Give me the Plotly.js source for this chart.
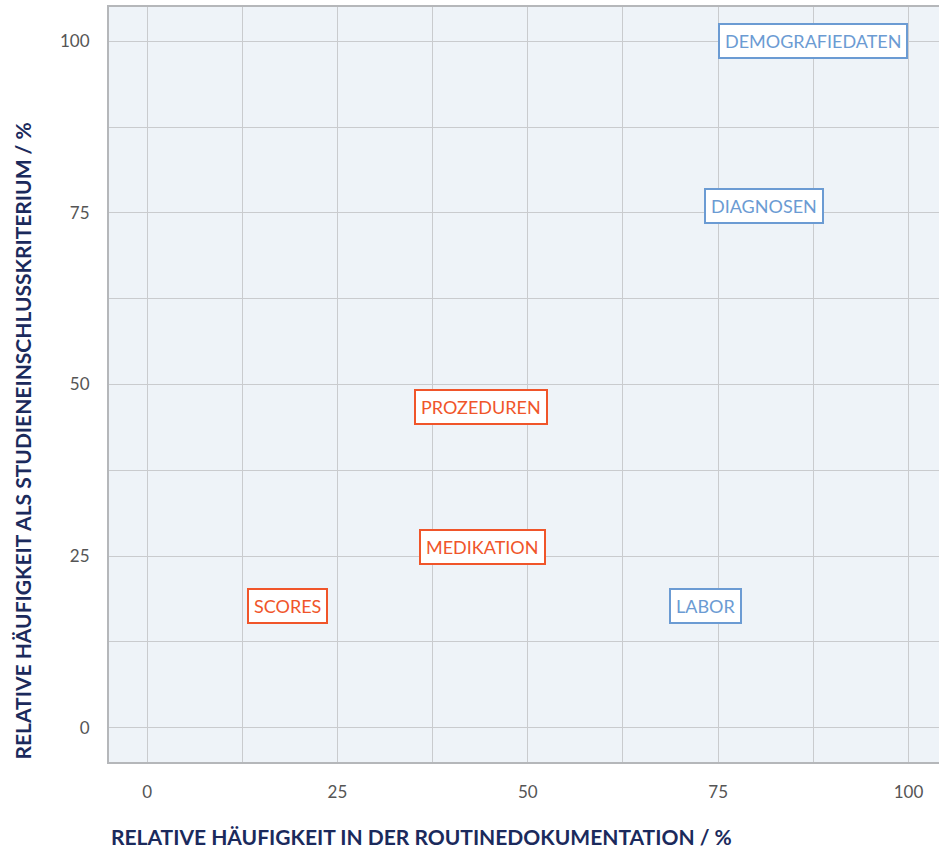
<!DOCTYPE html>
<html><head><meta charset="utf-8">
<script src="https://cdn.plot.ly/plotly-3.0.1.min.js"></script>
<style>html,body{margin:0;padding:0;background:#fff;}#c{width:939px;height:848px;}</style>
</head><body><div id="c"></div>
<script>
const labels = ["DEMOGRAFIEDATEN","DIAGNOSEN","PROZEDUREN","MEDIKATION","SCORES","LABOR"];
const routine = [87.5, 81, 43.8, 44, 18.5, 73.3];
const inclusion = [100, 76, 46.7, 26.3, 17.7, 17.7];
const groups = ["blue","blue","red","red","red","blue"];
const tickVals = [0, 25, 50, 75, 100];
const tickText = ["0", "25", "50", "75", "100"];
const xTitle = "RELATIVE HÄUFIGKEIT IN DER ROUTINEDOKUMENTATION / %";
const yTitle = "RELATIVE HÄUFIGKEIT ALS STUDIENEINSCHLUSSKRITERIUM / %";

const colors = {blue: "#6b9bd3", red: "#f0552a"};
const font = "Source Sans Pro, Lato, Noto Sans, sans-serif";
const titleFont = {family: font, size: 21, color: "#1b2a5c", weight: "bold"};

const annotations = labels.map((t, i) => ({
  x: routine[i], y: inclusion[i], xref: "x", yref: "y",
  text: t, showarrow: false,
  font: {family: font, size: 18, color: colors[groups[i]]},
  bgcolor: "#ffffff", bordercolor: colors[groups[i]], borderwidth: 2, borderpad: 5
}));
annotations.push({
  xref: "paper", yref: "paper", x: 0, y: 0, xanchor: "left", yanchor: "middle",
  yshift: -74, text: xTitle, showarrow: false, font: titleFont
});
annotations.push({
  xref: "paper", yref: "paper", x: 0, y: 0, xanchor: "center", yanchor: "bottom",
  xshift: -87, textangle: -90, text: yTitle, showarrow: false, font: titleFont
});

const axisCommon = {
  tickvals: tickVals, ticktext: tickText,
  showgrid: true, gridcolor: "#c9cbce", gridwidth: 1,
  minor: {dtick: 12.5, tick0: 0, showgrid: true, gridcolor: "#c9cbce", gridwidth: 1},
  zeroline: false, showline: true, linecolor: "#b5b7ba", linewidth: 2, mirror: true,
  ticks: "", tickfont: {family: font, size: 17, color: "#555555"}
};

const layout = {
  width: 939, height: 848,
  margin: {l: 109, r: 0, t: 7, b: 86},
  paper_bgcolor: "#ffffff", plot_bgcolor: "#eef3f8",
  showlegend: false,
  xaxis: Object.assign({}, axisCommon, {range: [-5, 104], ticklabelstandoff: 14}),
  yaxis: Object.assign({}, axisCommon, {range: [-5, 105], ticklabelstandoff: 14}),
  annotations: annotations
};

Plotly.newPlot("c", [{x: routine, y: inclusion, mode: "markers", marker: {opacity: 0}, hoverinfo: "skip", type: "scatter"}], layout, {displayModeBar: false, staticPlot: true});
</script></body></html>
